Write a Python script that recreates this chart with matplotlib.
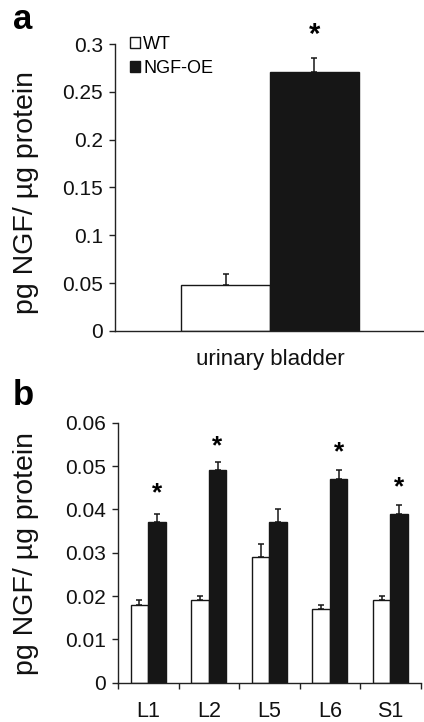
import matplotlib
matplotlib.use('Agg')
import matplotlib.pyplot as plt
from matplotlib.patches import Patch
import numpy as np

plt.rcParams['font.family'] = ['Liberation Sans', 'DejaVu Sans']

# ---- data panel a ----
groups_a = ['urinary bladder']
wt_a = [0.048]
wt_a_err = [0.012]
oe_a = [0.271]
oe_a_err = [0.014]
star_a = [0.309]
yticks_a = [0, 0.05, 0.1, 0.15, 0.2, 0.25, 0.3]
yticklabels_a = ['0', '0.05', '0.1', '0.15', '0.2', '0.25', '0.3']

# ---- data panel b ----
segments = ['L1', 'L2', 'L5', 'L6', 'S1']
wt_b = [0.018, 0.019, 0.029, 0.017, 0.019]
wt_b_err = [0.001, 0.001, 0.003, 0.001, 0.001]
oe_b = [0.037, 0.049, 0.037, 0.047, 0.039]
oe_b_err = [0.002, 0.002, 0.003, 0.002, 0.002]
star_b = [0.0438, 0.0546, None, 0.0531, 0.0451]
yticks_b = [0, 0.01, 0.02, 0.03, 0.04, 0.05, 0.06]
yticklabels_b = ['0', '0.01', '0.02', '0.03', '0.04', '0.05', '0.06']

series_names = ['WT', 'NGF-OE']
BLACK = '#161616'
YLABEL = 'pg NGF/ µg protein'

fig = plt.figure(figsize=(4.24, 7.22), dpi=100)
W, H = 424, 722

def axpos(l, t, r, b):
    return [l / W, 1 - b / H, (r - l) / W, (b - t) / H]

def style(ax, tick_fs):
    for s in ['top', 'right']:
        ax.spines[s].set_visible(False)
    for s in ['left', 'bottom']:
        ax.spines[s].set_linewidth(1.0)
        ax.spines[s].set_color('#222222')
    ax.tick_params(axis='y', direction='out', length=4.5, width=1.0, pad=4, labelsize=tick_fs,
                   color='#222222', labelcolor='#111111')

# ---------- panel a ----------
ax1 = fig.add_axes(axpos(115, 44, 424, 331))
style(ax1, 15)
w = 0.35
xa = np.arange(len(groups_a))
ax1.bar(xa - w / 2, wt_a, w, color='white', edgecolor=BLACK, linewidth=1.0,
        yerr=[np.zeros(len(wt_a)), wt_a_err], capsize=2, error_kw=dict(elinewidth=1.1, capthick=1.1, ecolor=BLACK))
ax1.bar(xa + w / 2, oe_a, w, color=BLACK, edgecolor=BLACK, linewidth=1.0,
        yerr=[np.zeros(len(oe_a)), oe_a_err], capsize=2, error_kw=dict(elinewidth=1.1, capthick=1.1, ecolor=BLACK))
for i, s in enumerate(star_a):
    ax1.text(xa[i] + w / 2, s, '*', ha='center', va='center', fontsize=21, fontweight='bold', clip_on=False)
ax1.set_xlim(-0.61, 0.606)
ax1.set_ylim(0, 0.3)
ax1.set_yticks(yticks_a)
ax1.set_yticklabels(yticklabels_a)
ax1.set_xticks(xa)
ax1.set_xticklabels(groups_a)
ax1.tick_params(axis='x', length=0, pad=13, labelsize=16, labelcolor='#111111')
leg_handles = [Patch(facecolor='white', edgecolor=BLACK, linewidth=1.0),
               Patch(facecolor=BLACK, edgecolor=BLACK, linewidth=1.0)]
ax1.legend(leg_handles, series_names, loc='upper left', bbox_to_anchor=(0.05, 1.028),
           frameon=False, fontsize=13, handlelength=0.55, handleheight=0.6,
           handletextpad=0.15, labelspacing=0.38, borderpad=0, borderaxespad=0)

# ---------- panel b ----------
ax2 = fig.add_axes(axpos(118, 422.7, 420.7, 682.7))
style(ax2, 15)
wb = 0.29
xb = np.arange(len(segments))
ax2.bar(xb - wb / 2, wt_b, wb, color='white', edgecolor=BLACK, linewidth=1.0,
        yerr=[np.zeros(len(wt_b)), wt_b_err], capsize=2, error_kw=dict(elinewidth=1.1, capthick=1.1, ecolor=BLACK))
ax2.bar(xb + wb / 2, oe_b, wb, color=BLACK, edgecolor=BLACK, linewidth=1.0,
        yerr=[np.zeros(len(oe_b)), oe_b_err], capsize=2, error_kw=dict(elinewidth=1.1, capthick=1.1, ecolor=BLACK))
for i, s in enumerate(star_b):
    if s is not None:
        ax2.text(xb[i] + wb / 2, s, '*', ha='center', va='center', fontsize=19, fontweight='bold', clip_on=False)
ax2.set_xlim(-0.5, len(segments) - 0.5)
ax2.set_ylim(0, 0.06)
ax2.set_yticks(yticks_b)
ax2.set_yticklabels(yticklabels_b)
ax2.set_xticks(xb)
ax2.set_xticklabels(segments)
ax2.set_xticks(np.arange(len(segments) + 1) - 0.5, minor=True)
ax2.tick_params(axis='x', which='major', length=0, pad=13, labelsize=15.5, labelcolor='#111111')
ax2.tick_params(axis='x', which='minor', direction='out', length=4, width=1.0, color='#222222')

# y labels and panel letters
fig.text(26 / W, 1 - 192 / H, YLABEL, rotation=90, ha='center', va='center', fontsize=20.5, color='#111111')
fig.text(26 / W, 1 - 553.5 / H, YLABEL, rotation=90, ha='center', va='center', fontsize=20.5, color='#111111')
fig.text(13 / W, 1 - 29 / H, 'a', ha='left', va='baseline', fontsize=25, fontweight='bold')
fig.text(13 / W, 1 - 405 / H, 'b', ha='left', va='baseline', fontsize=25, fontweight='bold')

fig.savefig('out.png', dpi=100)
